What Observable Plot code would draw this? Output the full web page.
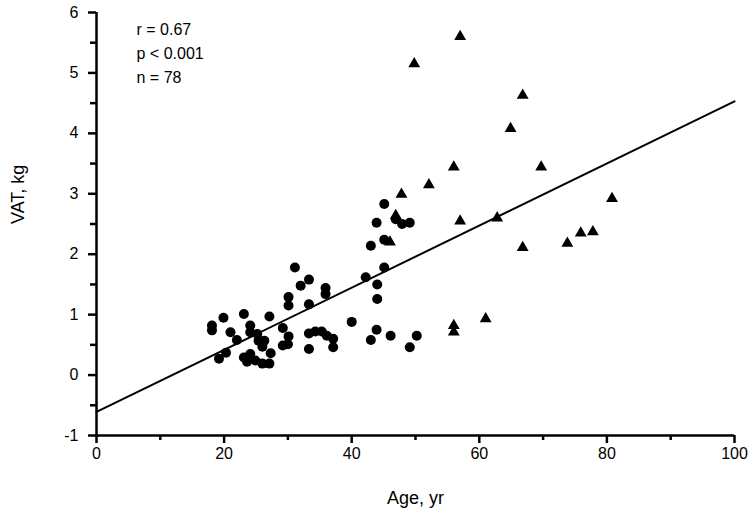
<!DOCTYPE html>
<html>
<head>
<meta charset="utf-8">
<script src="https://cdn.jsdelivr.net/npm/d3@7"></script>
<script src="https://cdn.jsdelivr.net/npm/@observablehq/plot@0.6"></script>
<style>
  html, body { margin: 0; padding: 0; background: #fff; }
  #chart svg { display: block; font-family: "Liberation Sans", Arial, sans-serif; }
</style>
</head>
<body>
<div id="chart"></div>
<script>
// Circles (younger group)
const circleAge = [18.1,18.1,19.9,21.0,22.0,23.1,24.1,24.1,27.1,19.2,20.3,23.1,23.6,24.1,24.9,26.0,27.1,27.3,25.2,25.4,26.3,26.0,29.2,30.1,30.0,29.2,30.1,30.1,31.1,32.0,33.3,33.3,35.9,35.9,33.3,34.3,35.3,36.1,37.1,37.1,33.3,40.0,42.2,44.0,44.0,45.1,43.9,43.0,46.1,50.2,49.1,43.0,45.1,43.9,45.1,46.9,47.9,49.1];
const circleVAT = [0.82,0.74,0.95,0.71,0.58,1.01,0.82,0.71,0.97,0.27,0.37,0.29,0.22,0.35,0.24,0.19,0.19,0.36,0.68,0.57,0.57,0.47,0.78,0.64,0.51,0.49,1.15,1.29,1.78,1.48,1.58,1.17,1.44,1.34,0.69,0.72,0.72,0.65,0.60,0.46,0.43,0.88,1.62,1.50,1.26,1.78,0.75,0.58,0.65,0.65,0.46,2.14,2.24,2.52,2.83,2.58,2.50,2.52];
// Triangles (older group)
const triAge = [57.0,49.8,66.8,64.9,56.0,69.7,52.1,47.8,80.8,46.9,46.0,57.0,62.8,66.8,73.8,75.9,77.8,56.0,56.0,61.0];
const triVAT = [5.60,5.15,4.63,4.08,3.44,3.44,3.15,2.99,2.92,2.64,2.20,2.55,2.60,2.11,2.18,2.35,2.37,0.82,0.71,0.93];
// Regression line end points
const fitAge = [0, 100];
const fitVAT = [-0.61, 4.53];
// Tick labels
const xMajor = [0, 20, 40, 60, 80, 100];
const xMinor = [10, 30, 50, 70, 90];
const yMajor = [-1, 0, 1, 2, 3, 4, 5, 6];
const yMinor = [-0.5, 0.5, 1.5, 2.5, 3.5, 4.5, 5.5];
const statLines = ["r = 0.67", "p < 0.001", "n = 78"];
const xTitle = "Age, yr";
const yTitle = "VAT, kg";

const circles = circleAge.map((a, i) => ({age: a, vat: circleVAT[i]}));
const tris = triAge.map((a, i) => ({age: a, vat: triVAT[i]}));
const fit = fitAge.map((a, i) => ({age: a, vat: fitVAT[i]}));

const chart = Plot.plot({
  width: 750,
  height: 523,
  marginLeft: 96,
  marginRight: 16,
  marginTop: 12,
  marginBottom: 88,
  style: {fontSize: "16px", fontFamily: "'Liberation Sans', Arial, sans-serif", color: "#000", background: "#fff"},
  x: {domain: [0, 100]},
  y: {domain: [-1, 6]},
  marks: [
    Plot.axisX({ticks: xMajor, tickSize: 8, tickPadding: 4, strokeWidth: 2.5, label: null, tickFormat: d => String(d), fontSize: 16}),
    Plot.axisX({ticks: xMinor, tickSize: 5, strokeWidth: 2.5, label: null, tickFormat: () => ""}),
    Plot.axisY({ticks: yMajor, tickSize: 8, tickPadding: 10, strokeWidth: 2.5, label: null, tickFormat: d => String(d), fontSize: 16}),
    Plot.axisY({ticks: yMinor, tickSize: 6, strokeWidth: 2.5, label: null, tickFormat: () => ""}),
    Plot.ruleY([-1], {x1: 0, x2: 100, stroke: "#000", strokeWidth: 2.5}),
    Plot.ruleX([0], {y1: -1, y2: 6, stroke: "#000", strokeWidth: 2.5}),
    Plot.line(fit, {x: "age", y: "vat", stroke: "#000", strokeWidth: 2}),
    Plot.dot(circles, {x: "age", y: "vat", r: 5, fill: "#000", stroke: "none"}),
    Plot.dot(tris, {x: "age", y: "vat", r: 4.4, symbol: "triangle", fill: "#000", stroke: "none"}),
    Plot.text([statLines.join("\n")], {frameAnchor: "top-left", dx: 40, dy: 5, lineAnchor: "top", textAnchor: "start", lineHeight: 1.5, fontSize: 16, fill: "#000"}),
    Plot.text([xTitle], {frameAnchor: "bottom", dy: 68, fontSize: 18, fill: "#000"}),
    Plot.text([yTitle], {frameAnchor: "left", dx: -78, rotate: -90, fontSize: 18, fill: "#000"})
  ]
});
document.getElementById("chart").appendChild(chart);
</script>
</body>
</html>
